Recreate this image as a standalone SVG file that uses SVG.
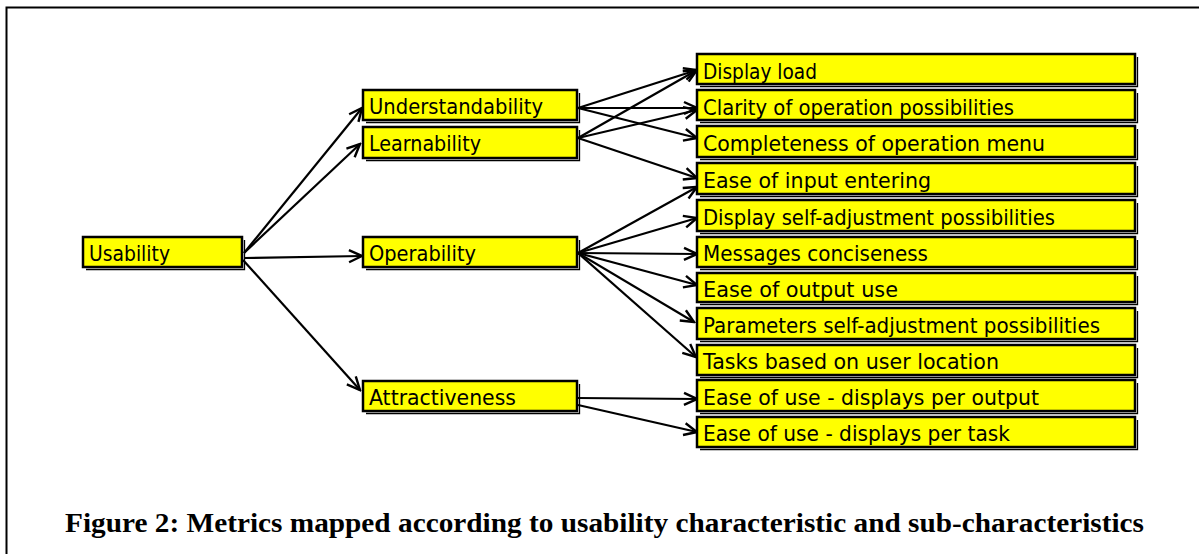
<svg xmlns="http://www.w3.org/2000/svg" width="1199" height="554" viewBox="0 0 1199 554">
<style>
.bx rect{fill:#ffff00;stroke:#000;stroke-width:2.5}
.bx path{fill:none;stroke:#000;stroke-width:1.3}
.bx text{font-family:"DejaVu Sans","Liberation Sans",sans-serif;font-size:20.5px;fill:#000}
#connectors path{fill:none;stroke:#000;stroke-width:2.2;marker-end:url(#a)}
.cap{font-family:"Liberation Serif","Times New Roman",serif;font-weight:bold;font-size:28px;fill:#000}
</style>
<defs>
<marker id="a" viewBox="-15 -8 17 16" refX="0" refY="0" markerWidth="17" markerHeight="16" markerUnits="userSpaceOnUse" orient="auto">
<path d="M-13,-6 L0,0 L-13,6" fill="none" stroke="#000" stroke-width="2.4"/>
</marker>
</defs>
<rect width="1199" height="554" fill="#fff"/>
<path d="M6.5,554 V7.5 H1199" fill="none" stroke="#000" stroke-width="2"/>

<g id="connectors">
<path d="M244,253 L362,108"/>
<path d="M244,253 L360,144"/>
<path d="M244,258 L362,256"/>
<path d="M243,260 L360,390"/>
<path d="M578,108 L697,70"/>
<path d="M578,108 L697,108"/>
<path d="M578,108 L697,138"/>
<path d="M578,138 L697,70"/>
<path d="M578,138 L697,110"/>
<path d="M578,138 L697,178"/>
<path d="M578,253 L697,187"/>
<path d="M578,253 L697,218"/>
<path d="M578,253 L697,254"/>
<path d="M578,253 L697,285"/>
<path d="M578,253 L694,322"/>
<path d="M578,253 L696,357"/>
<path d="M578,398 L697,399"/>
<path d="M578,405 L697,432"/>
</g>

<g id="usability" class="bx"><rect x="83" y="237" width="159" height="30"/><path d="M86,269.5 H244.5 V240"/><text x="89" y="261" textLength="81" lengthAdjust="spacingAndGlyphs">Usability</text></g>

<g id="understandability" class="bx"><rect x="363" y="90" width="214" height="30"/><path d="M366,122.5 H579.5 V93"/><text x="369" y="114" textLength="174" lengthAdjust="spacingAndGlyphs">Understandability</text></g>
<g id="learnability" class="bx"><rect x="363" y="127" width="214" height="31"/><path d="M366,160.5 H579.5 V130"/><text x="369" y="151" textLength="112" lengthAdjust="spacingAndGlyphs">Learnability</text></g>
<g id="operability" class="bx"><rect x="363" y="237" width="214" height="30"/><path d="M366,269.5 H579.5 V240"/><text x="369" y="261" textLength="107" lengthAdjust="spacingAndGlyphs">Operability</text></g>
<g id="attractiveness" class="bx"><rect x="363" y="381" width="214" height="30"/><path d="M366,413.5 H579.5 V384"/><text x="369" y="405" textLength="147" lengthAdjust="spacingAndGlyphs">Attractiveness</text></g>

<g id="m1" class="bx"><rect x="697" y="54" width="438" height="30"/><path d="M700,86.5 H1137.5 V57"/><text x="703" y="79" textLength="114" lengthAdjust="spacingAndGlyphs">Display load</text></g>
<g id="m2" class="bx"><rect x="697" y="90" width="438" height="30"/><path d="M700,122.5 H1137.5 V93"/><text x="703" y="115" textLength="311" lengthAdjust="spacingAndGlyphs">Clarity of operation possibilities</text></g>
<g id="m3" class="bx"><rect x="697" y="126" width="438" height="31"/><path d="M700,159.5 H1137.5 V129"/><text x="703" y="151" textLength="342" lengthAdjust="spacingAndGlyphs">Completeness of operation menu</text></g>
<g id="m4" class="bx"><rect x="697" y="163" width="438" height="31"/><path d="M700,196.5 H1137.5 V166"/><text x="703" y="188" textLength="228" lengthAdjust="spacingAndGlyphs">Ease of input entering</text></g>
<g id="m5" class="bx"><rect x="697" y="200" width="438" height="31"/><path d="M700,233.5 H1137.5 V203"/><text x="703" y="225" textLength="352" lengthAdjust="spacingAndGlyphs">Display self-adjustment possibilities</text></g>
<g id="m6" class="bx"><rect x="697" y="237" width="438" height="30"/><path d="M700,269.5 H1137.5 V240"/><text x="703" y="261" textLength="225" lengthAdjust="spacingAndGlyphs">Messages conciseness</text></g>
<g id="m7" class="bx"><rect x="697" y="273" width="438" height="29"/><path d="M700,304.5 H1137.5 V276"/><text x="703" y="297" textLength="195" lengthAdjust="spacingAndGlyphs">Ease of output use</text></g>
<g id="m8" class="bx"><rect x="697" y="308" width="438" height="31"/><path d="M700,341.5 H1137.5 V311"/><text x="703" y="333" textLength="397" lengthAdjust="spacingAndGlyphs">Parameters self-adjustment possibilities</text></g>
<g id="m9" class="bx"><rect x="697" y="345" width="438" height="30"/><path d="M700,377.5 H1137.5 V348"/><text x="703" y="369" textLength="296" lengthAdjust="spacingAndGlyphs">Tasks based on user location</text></g>
<g id="m10" class="bx"><rect x="697" y="380" width="438" height="31"/><path d="M700,413.5 H1137.5 V383"/><text x="703" y="405" textLength="336" lengthAdjust="spacingAndGlyphs">Ease of use - displays per output</text></g>
<g id="m11" class="bx"><rect x="697" y="417" width="438" height="30"/><path d="M700,449.5 H1137.5 V420"/><text x="703" y="441" textLength="307" lengthAdjust="spacingAndGlyphs">Ease of use - displays per task</text></g>

<text class="cap" x="65" y="532" textLength="1079" lengthAdjust="spacingAndGlyphs">Figure 2: Metrics mapped according to usability characteristic and sub-characteristics</text>
</svg>
